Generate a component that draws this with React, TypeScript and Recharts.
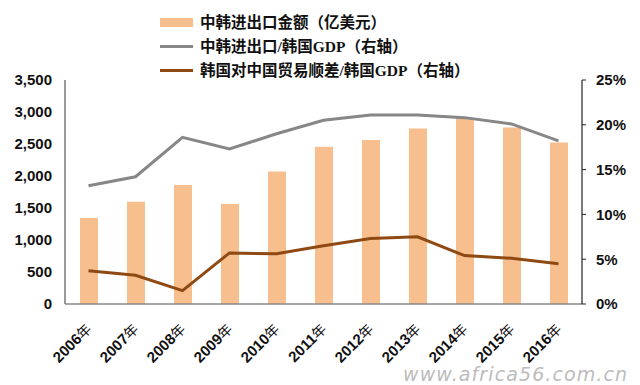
import React from "react";
import { ComposedChart, Bar, Line, XAxis, YAxis } from "recharts";

const years = ["2006", "2007", "2008", "2009", "2010", "2011", "2012", "2013", "2014", "2015", "2016"];
const yearSuffix = "年";
const tradeValue = [1343, 1598, 1861, 1562, 2072, 2456, 2563, 2742, 2905, 2758, 2524];
const tradeToGdp = [13.2, 14.2, 18.6, 17.3, 19.0, 20.5, 21.1, 21.1, 20.8, 20.1, 18.2];
const surplusToGdp = [3.7, 3.2, 1.5, 5.7, 5.6, 6.5, 7.3, 7.5, 5.4, 5.1, 4.5];
const leftTicks = [0, 500, 1000, 1500, 2000, 2500, 3000, 3500];
const rightTicks = [0, 5, 10, 15, 20, 25];
const legendLabels = ["中韩进出口金额（亿美元）", "中韩进出口/韩国GDP（右轴）", "韩国对中国贸易顺差/韩国GDP（右轴）"];

const data = years.map((y, i) => ({
  year: y,
  trade: tradeValue[i],
  ratio: tradeToGdp[i],
  surplus: surplusToGdp[i],
}));

const BAR = "#F7BE8E";
const GRAY = "#878787";
const BROWN = "#8E4A12";
const tickFont = "'Liberation Sans', Arial, sans-serif";
const legendFont = "'Liberation Serif', 'Noto Sans CJK SC', serif";

const XTick = (props: any) => {
  const { x, y, payload } = props;
  const tx = x + 4;
  const ty = y + 26;
  return (
    <text
      x={tx}
      y={ty}
      transform={`rotate(-45 ${tx} ${ty})`}
      textAnchor="end"
      fontSize={15}
      fontWeight="bold"
      fontFamily={tickFont}
      fill="#111"
    >
      {payload.value}
      <tspan fontWeight="normal" fontFamily="'Noto Sans CJK SC', sans-serif" fontSize={14}>
        {yearSuffix}
      </tspan>
    </text>
  );
};

export default function App() {
  const swatches = [
    <rect key="a" x={0} y={0} width={33} height={9} fill={BAR} />,
    <line key="b" x1={0} y1={4.5} x2={33} y2={4.5} stroke={GRAY} strokeWidth={3} />,
    <line key="c" x1={0} y1={4.5} x2={33} y2={4.5} stroke={BROWN} strokeWidth={3} />,
  ];
  return (
    <div style={{ position: "absolute", left: 0, top: 0, width: 640, height: 385, background: "#fff", overflow: "hidden" }}>
      <ComposedChart width={640} height={385} data={data} margin={{ top: 80, right: 0, bottom: 0, left: 0 }}>
        <XAxis
          dataKey="year"
          xAxisId="x"
          height={81}
          tickLine={false}
          tickSize={0}
          tickMargin={0}
          axisLine={{ stroke: "#888", strokeWidth: 1.5 }}
          tick={<XTick />}
          interval={0}
        />
        <YAxis
          yAxisId="left"
          orientation="left"
          width={65}
          domain={[0, 3500]}
          ticks={leftTicks}
          tickFormatter={(v: number) => v.toLocaleString("en-US")}
          tickLine={false}
          tickSize={5}
          tickMargin={8}
          axisLine={{ stroke: "#777", strokeWidth: 1.5 }}
          tick={{ fontSize: 15, fontWeight: "bold", fontFamily: tickFont, fill: "#111" }}
          interval={0}
        />
        <YAxis
          yAxisId="right"
          orientation="right"
          width={58}
          domain={[0, 25]}
          ticks={rightTicks}
          tickFormatter={(v: number) => `${v}%`}
          tickSize={4}
          tickMargin={10}
          tickLine={{ stroke: "#222" }}
          axisLine={{ stroke: "#222", strokeWidth: 1.2 }}
          tick={{ fontSize: 15, fontWeight: "bold", fontFamily: tickFont, fill: "#111" }}
          interval={0}
        />
        <Bar dataKey="trade" xAxisId="x" yAxisId="left" fill={BAR} barSize={18} isAnimationActive={false} />
        <Line dataKey="ratio" xAxisId="x" yAxisId="right" type="linear" stroke={GRAY} strokeWidth={3} dot={false} isAnimationActive={false} />
        <Line dataKey="surplus" xAxisId="x" yAxisId="right" type="linear" stroke={BROWN} strokeWidth={3} dot={false} isAnimationActive={false} />
      </ComposedChart>
      <svg width={340} height={80} style={{ position: "absolute", left: 160, top: 8 }}>
        {legendLabels.map((label, i) => (
          <g key={label} transform={`translate(0, ${10 + i * 24})`}>
            {swatches[i]}
            <text x={40} y={10} fontSize={15.5} fontWeight="bold" fontFamily={legendFont} fill="#111">
              {label}
            </text>
          </g>
        ))}
      </svg>
      <svg width={240} height={30} style={{ position: "absolute", left: 400, top: 355 }}>
        <text
          x={3}
          y={26}
          fontFamily="'DejaVu Sans', sans-serif"
          fontStyle="italic"
          fontSize={19}
          letterSpacing={1.1}
          fill="#bcbcbc"
        >
          www.africa56.com.cn
        </text>
      </svg>
    </div>
  );
}
